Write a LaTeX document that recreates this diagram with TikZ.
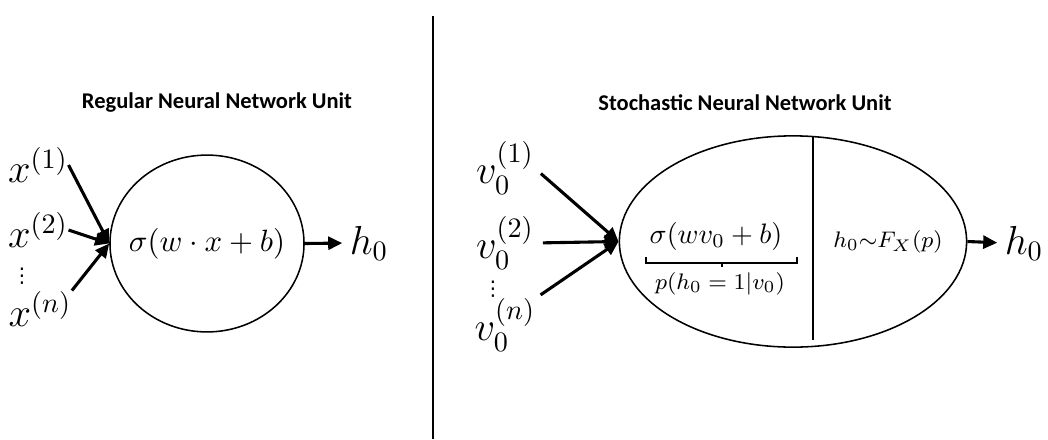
\documentclass[tikz,border=0pt]{standalone}
\usepackage{amsmath}
\usepackage{fontspec}
\newfontfamily\titlefont{Carlito}
\newfontfamily\symfont{DejaVu Sans}
\usepackage{tikz}
\usetikzlibrary{positioning,arrows.meta,shapes.geometric,calc}

\begin{document}
\begin{tikzpicture}[x=0.0125cm, y=-0.0125cm, >={Triangle[length=5pt,width=4.6pt]},
  title/.style={font=\titlefont\bfseries\fontsize{8}{9}\selectfont},
  unit/.style={draw, ellipse, line width=0.55pt, inner sep=0pt},
  inp/.style={inner sep=0pt, font=\fontsize{14}{16}\selectfont},
  dots/.style={inner sep=0pt, font=\symfont\fontsize{7.2}{8}\selectfont},
  wire/.style={->, line width=1.1pt}]
  \useasboundingbox (0,0) rectangle (1048,439);

  % divider
  \draw[line width=0.75pt] (433,16) -- (433,439);

  % regular unit
  \node[title] (titlereg) at (217,103) {Regular Neural Network Unit};
  \node[unit, minimum width=2.425cm, minimum height=2.21cm] (neuron) at (207,243.5) {};
  \node[font=\fontsize{11}{13}\selectfont] (act) at (neuron.center) {$\sigma(w\cdot x+b)$};
  \node[inp] (x1) at (38,165) {$x^{(1)}$};
  \node[inp] (x2) at (38,230) {$x^{(2)}$};
  \node[dots] (xdots) at (22,276) {⋮};
  \node[inp] (xn) at (40,309) {$x^{(n)}$};
  \coordinate (xin) at (neuron.west);
  \draw[wire] (x1.east) -- (xin);
  \draw[wire] (x2.east) -- (xin);
  \draw[wire] (xn.north east) -- (xin);
  \node[inp] (h) at (369,243) {$h_0$};
  \draw[wire, shorten >=2.5pt] (neuron.east) -- (h.west);

  % stochastic unit
  \node[title] (titlesto) at (745,103) {Stochastic Neural Network Unit};
  \node[unit, minimum width=4.34cm, minimum height=2.64cm] (sneuron) at (793,241.5) {};
  \draw[line width=0.55pt] (813,136) -- (813,340);
  \node[font=\fontsize{10}{12}\selectfont] (sact) at (716,236) {$\sigma(wv_0+b)$};
  \node[font=\fontsize{8.2}{10}\selectfont] (prob) at (720,284) {$p(h_0=1|v_0)$};
  \draw[line width=0.55pt] (646,257) |- (797,263) -- (797,257);
  \draw[line width=0.55pt] (722,263) -- (722,267);
  \node[font=\fontsize{8.2}{10}\selectfont] (samp) at (888,242) {$h_0{\sim}F_X(p)$};
  \node[inp] (v1) at (505,168) {$v_0^{(1)}$};
  \node[inp] (v2) at (505,243) {$v_0^{(2)}$};
  \node[dots] (vdots) at (493,289) {⋮};
  \node[inp] (vn) at (505,325) {$v_0^{(n)}$};
  \coordinate (vin) at (sneuron.west);
  \draw[wire, shorten <=3pt] (v1.east) -- (vin);
  \draw[wire, shorten <=3pt] (v2.east) -- (vin);
  \draw[wire, shorten <=2pt] (vn.north east) -- (vin);
  \node[inp] (sh) at (1024,243) {$h_0$};
  \draw[wire, shorten >=2.5pt] (sneuron.east) -- (sh.west);
\end{tikzpicture}
\end{document}
